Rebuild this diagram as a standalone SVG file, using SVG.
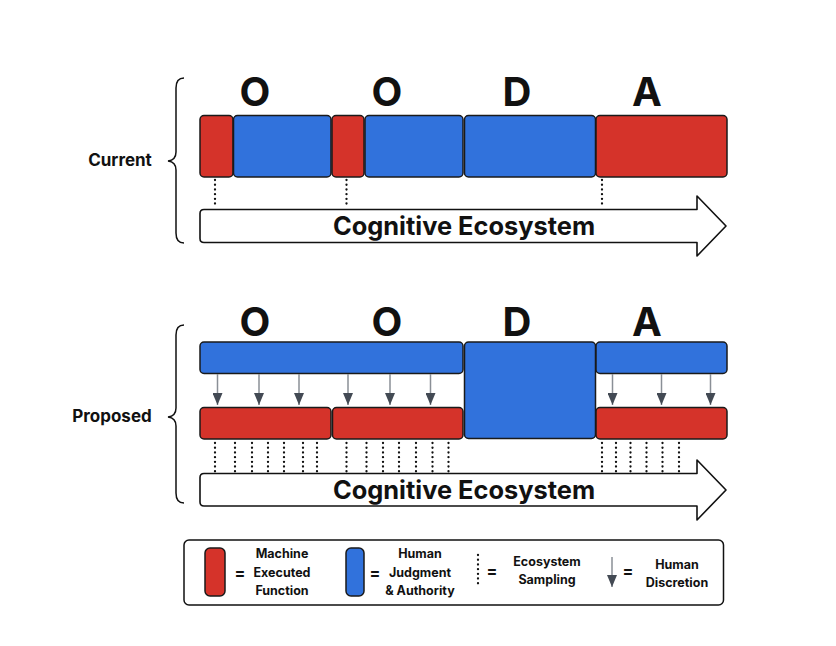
<svg xmlns="http://www.w3.org/2000/svg" width="836" height="646" viewBox="0 0 836 646">
<defs>
<style>
.r{fill:#d5332a;stroke:#1a1a1a;stroke-width:1.5}
.b{fill:#3172dc;stroke:#1a1a1a;stroke-width:1.5}
.dot{stroke:#111;stroke-width:2.3;stroke-dasharray:0.1 4.6;stroke-linecap:round;fill:none}
.hd{stroke:#8a8f96;stroke-width:1.5;fill:none}
.br{fill:none;stroke:#111;stroke-width:1.5}
.arw{fill:#fff;stroke:#111;stroke-width:1.6;stroke-linejoin:round}
.t{font-family:Inter,"Liberation Sans",sans-serif;font-weight:700;fill:#111}
.L{font-size:40px;text-anchor:middle}
.C{font-size:25.4px;text-anchor:middle}
.S{font-size:17px;text-anchor:middle}
.g{font-size:12.5px;text-anchor:middle}
.e{font-size:16px;text-anchor:middle}
</style>
<marker id="ah" viewBox="0 0 12 10" refX="12" refY="5" markerWidth="12" markerHeight="10" markerUnits="userSpaceOnUse" orient="auto">
<path d="M0,0 L12,5 L0,10 Z" fill="#434a54"/>
</marker>
</defs>
<rect width="836" height="646" fill="#fff"/>

<g id="current">
<text class="t S" x="120" y="166">Current</text>
<path class="br" d="M184,78 Q176,78 176,88 L176,152 Q176,160 168,161 Q176,162 176,170 L176,233 Q176,243 184,243"/>
<text class="t L" x="255" y="106">O</text>
<text class="t L" x="387" y="106">O</text>
<text class="t L" x="517" y="106">D</text>
<text class="t L" x="647" y="106">A</text>
<g id="c-m1"><rect class="r" x="200" y="115.5" width="33" height="61.5" rx="4"/></g>
<g id="c-h1"><rect class="b" x="233.5" y="115.5" width="97.5" height="61.5" rx="4"/></g>
<g id="c-m2"><rect class="r" x="332" y="115.5" width="32" height="61.5" rx="4"/></g>
<g id="c-h2"><rect class="b" x="365" y="115.5" width="98" height="61.5" rx="4"/></g>
<g id="c-h3"><rect class="b" x="464.5" y="115.5" width="131" height="61.5" rx="4"/></g>
<g id="c-m3"><rect class="r" x="596" y="115.5" width="131" height="61.5" rx="4"/></g>
<g id="c-eco">
<path class="arw" d="M204,209.5 L697,209.5 L697,196 L726,226 L697,256 L697,242.5 L204,242.5 Q200,242.5 200,238.5 L200,213.5 Q200,209.5 204,209.5 Z"/>
<text class="t C" x="464" y="235">Cognitive Ecosystem</text>
</g>
</g>

<g id="proposed">
<text class="t S" x="112" y="422">Proposed</text>
<path class="br" d="M184,325 Q176,325 176,335 L176,408 Q176,416 168,417 Q176,418 176,426 L176,493 Q176,503 184,503"/>
<text class="t L" x="255" y="336">O</text>
<text class="t L" x="387" y="336">O</text>
<text class="t L" x="517" y="336">D</text>
<text class="t L" x="647" y="336">A</text>
<g id="p-h1"><rect class="b" x="200" y="342" width="263" height="31.5" rx="4"/></g>
<g id="p-h2"><rect class="b" x="464.5" y="342" width="131" height="96.5" rx="4"/></g>
<g id="p-h3"><rect class="b" x="596" y="342" width="131" height="31.5" rx="4"/></g>
<g id="p-m1"><rect class="r" x="200" y="407.5" width="131" height="31.5" rx="4"/></g>
<g id="p-m2"><rect class="r" x="332.5" y="407.5" width="130.5" height="31.5" rx="4"/></g>
<g id="p-m3"><rect class="r" x="596" y="407.5" width="131" height="31.5" rx="4"/></g>
<g id="p-eco">
<path class="arw" d="M204,473.5 L697,473.5 L697,460 L726,490 L697,520 L697,506 L204,506 Q200,506 200,502 L200,477.5 Q200,473.5 204,473.5 Z"/>
<text class="t C" x="464" y="499">Cognitive Ecosystem</text>
</g>
</g>

<g id="connectors">
<path class="dot" d="M215,180 V208 M346.5,180 V208 M602,180 V208"/>
<path class="dot" d="M215,443 V472 M235,443 V472 M252,443 V472 M268,443 V472 M284,443 V472 M303,443 V472 M317,443 V472 M346.5,443 V472 M366.5,443 V472 M383,443 V472 M399,443 V472 M416,443 V472 M432.5,443 V472 M448.5,443 V472 M602,443 V472 M616,443 V472 M630.5,443 V472 M646.5,443 V472 M662.5,443 V472 M679,443 V472"/>
<g class="hd" marker-end="url(#ah)">
<path d="M217.5,374 V405"/>
<path d="M259,374 V405"/>
<path d="M299,374 V405"/>
<path d="M348,374 V405"/>
<path d="M390,374 V405"/>
<path d="M430.5,374 V405"/>
<path d="M612.5,374 V405"/>
<path d="M661.5,374 V405"/>
<path d="M710.5,374 V405"/>
</g>
</g>

<g id="legend">
<rect x="184" y="540" width="539.5" height="65" rx="5" fill="#fff" stroke="#111" stroke-width="1.5"/>
<rect class="r" x="205" y="548" width="20" height="48" rx="5"/>
<text class="t e" x="240" y="579">=</text>
<text class="t g" x="282" y="558">Machine</text>
<text class="t g" x="282" y="577">Executed</text>
<text class="t g" x="282" y="595">Function</text>
<rect class="b" x="346" y="548" width="18" height="48" rx="5"/>
<text class="t e" x="375" y="579">=</text>
<text class="t g" x="420" y="558">Human</text>
<text class="t g" x="420" y="577">Judgment</text>
<text class="t g" x="420" y="595">&amp; Authority</text>
<path class="dot" d="M478,555 V587"/>
<text class="t e" x="492" y="577">=</text>
<text class="t g" x="547" y="566">Ecosystem</text>
<text class="t g" x="547" y="584">Sampling</text>
<path class="hd" d="M612,557 V587" marker-end="url(#ah)"/>
<text class="t e" x="628" y="577">=</text>
<text class="t g" x="677" y="569">Human</text>
<text class="t g" x="677" y="587">Discretion</text>
</g>
</svg>
